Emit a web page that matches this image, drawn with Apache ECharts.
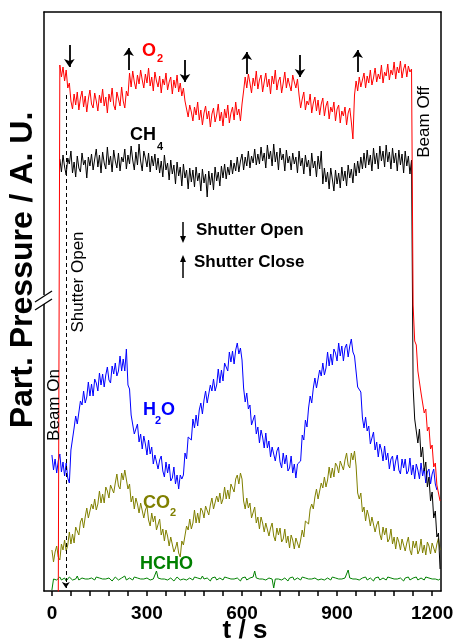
<!DOCTYPE html>
<html>
<head>
<meta charset="utf-8">
<script src="https://cdn.jsdelivr.net/npm/echarts@6/dist/echarts.min.js"></script>
<style>
  html, body { margin: 0; padding: 0; background: #fff; }
  #chart { width: 453px; height: 641px; }
</style>
</head>
<body>
<div id="chart"></div>
<script>
// Mass-spectrometer partial pressures (arbitrary units) sampled every 5 s.
const T_STEP = 5;

// O2 trace, from t = 0 s (zero before the beam is switched on)
const o2Start = 0;
const o2Values = [
  -10,-10,-10,-10,-10,
  526,514,524,510,521,503,508,490,
  482,497,486,499,481,493,500,484,495,479,492,501,487,483,498,490,480,496,488,502,485,494,478,497,489,503,486,481,499,492,485,504,490,483,500,495,
  518,504,520,509,502,516,507,521,511,503,517,508,523,505,514,500,519,510,504,515,498,512,506,518,501,509,514,497,511,503,516,499,508,495,
  503,490,
  488,474,486,479,470,484,476,489,471,481,466,478,485,472,480,464,477,483,469,476,487,470,479,465,482,473,486,468,478,484,471,489,476,482,470,487,
  500,514,503,517,508,498,513,505,520,502,511,516,499,509,518,504,512,497,515,507,521,501,510,514,498,508,519,503,513,506,500,516,509,503,512,
  496,483,492,499,481,490,486,497,478,488,494,480,491,476,487,493,475,485,490,472,484,479,489,470,482,486,468,480,475,484,466,478,483,469,452,
  496,510,500,514,504,511,518,503,515,508,521,506,513,523,509,517,512,526,508,519,515,527,511,521,516,529,512,524,518,530,513,522,527,514,525,519,522,
  286,250,246,220,222,198,200,178,182,160,164,142,146,124,128,106,108,90
];

// CH4 trace, from the moment the beam is switched on
const ch4Start = 25;
const ch4Values = [
  432,419,436,424,416,433,427,440,418,429,414,435,423,419,438,426,431,413,434,425,
  437,421,432,442,424,436,418,439,428,422,444,426,435,419,441,430,423,438,420,434,429,
  442,422,436,427,445,431,421,439,426,447,430,420,440,433,424,438,419,435,425,437,421,
  433,418,430,414,436,421,428,411,431,417,426,407,429,415,424,405,427,413,421,402,423,
  409,421,404,424,410,418,400,422,408,417,394,420,406,418,401,424,410,419,405,425,413,
  427,412,424,416,431,417,428,420,434,419,430,437,421,434,425,440,423,435,428,442,426,437,
  427,444,430,438,423,446,432,440,425,447,429,439,421,443,431,437,420,441,428,435,
  421,438,427,434,418,440,425,433,417,436,424,431,415,438,423,430,414,435,422,440,
  407,423,409,419,402,423,412,400,421,407,418,403,424,410,420,405,426,413,422,408,428,415,
  430,418,434,422,438,423,441,426,436,420,443,427,438,422,445,430,440,424,446,429,439,
  422,443,428,438,420,441,426,437,418,440,425,435,417,431,
  204,172,174,148,162,134,144,120,129,104,114,90,99,73,80,54,58,22
];

// H2O trace
const h2oStart = 0;
const h2oValues = [
  136,121,132,118,130,137,119,129,115,128,113,
  108,
  141,142,163,175,167,169,190,186,200,188,194,209,195,207,195,212,208,200,218,206,217,204,216,224,211,208,225,217,228,215,220,235,220,232,220,242,
  206,202,176,178,157,157,167,149,157,142,155,147,136,151,137,144,127,136,138,122,131,135,120,114,129,118,127,110,113,124,107,116,102,116,112,
  116,138,132,154,155,151,172,163,176,165,181,188,177,191,200,188,187,206,200,212,200,206,222,208,221,210,228,226,220,239,229,240,227,241,248,237,243,
  231,203,189,198,182,186,166,166,176,157,164,148,161,154,143,158,143,150,134,144,146,130,140,144,129,123,138,127,136,120,123,135,118,127,113,127,
  126,130,156,151,171,164,183,195,188,203,213,203,202,221,215,228,216,223,239,225,237,226,242,238,230,248,235,245,230,243,247,234,245,252,239,235,
  234,204,203,199,173,163,174,160,165,147,148,159,141,149,134,147,141,130,145,131,138,122,132,135,120,130,136,121,117,132,
  123,132,117,120,133,116,126,112,127,121,112,128,115,123,108,119,122,107,117,122,107,101
];

// CO2 trace
const co2Start = 0;
const co2Values = [
  41,29,39,45,34,31,47,41,51,40,46,59,47,57,48,64,62,56,69,73,63,74,83,73,71,87,82,92,81,87,100,88,97,88,104,100,93,106,108,98,108,117,105,102,118,111,121,122,
  102,107,89,95,82,93,87,78,88,87,73,81,85,71,65,78,69,75,61,63,72,56,62,50,61,55,45,54,52,39,43,49,38,34,50,
  46,47,65,61,72,62,68,81,68,78,68,83,80,73,85,87,76,86,93,82,80,95,89,98,87,92,104,92,101,92,107,105,99,112,116,107,118,
  112,90,82,93,83,88,73,75,84,68,74,62,74,68,59,68,68,55,63,68,55,50,63,56,63,49,52,62,48,55,43,56,51,42,53,53,43,
  51,61,54,70,71,67,82,87,82,94,102,92,91,108,103,114,104,111,124,113,123,114,128,125,118,130,132,121,131,138,126,123,138,131,140,
  125,98,92,98,79,84,70,81,75,65,74,73,59,66,70,57,51,64,56,63,49,52,62,47,54,42,54,49,41,52,
  52,40,48,54,41,36,50,43,50,37,41,52,38,46,36,49,45,37,48,49,38,47,53,41
];

// HCHO trace
const hchoStart = 0;
const hchoValues = [
  1,12,13,11,12,14,11,12,13,10,12,14,12,11,13,12,15,11,12,13,11,12,14,12,10,13,12,11,14,12,
  13,11,12,14,12,11,13,12,10,12,14,13,11,12,13,12,15,11,12,13,12,11,14,12,13,11,12,14,12,10,
  13,12,11,13,12,14,20,13,11,12,13,12,14,11,12,13,12,10,12,14,12,11,13,12,14,11,12,13,12,11,
  14,12,13,11,12,15,12,11,13,12,10,13,12,14,11,12,13,12,11,14,12,13,11,12,14,12,11,13,12,10,
  13,12,14,11,12,13,12,14,20,13,11,12,13,12,14,11,12,13,11,12,3,12,13,12,14,11,12,13,12,10,
  13,12,14,11,12,13,12,11,14,12,13,11,12,14,12,10,13,12,11,13,12,14,11,12,13,12,11,14,12,13,
  11,12,14,12,10,13,12,21,13,11,12,14,12,13,11,12,13,12,14,11,12,13,12,10,13,12,14,11,12,13,
  12,11,14,12,13,11,12,14,12,11,13,12,10,13,12,14,11,12,13,12,14,11,12,13,12,11,14,12,13,11,
  12,14,12,13,11,12
];

// Events (s) and arrow extents (A.U.)
const shutterFirstOpen = 44;
const shutterOpenTimes = [55, 420, 783];
const shutterCloseTimes = [242, 615, 965];
const openArrowTop = [546, 531, 536];
const closeArrowTop = [543, 539, 541];
const ARROW_LEN = 22;

// Axis ticks
const xTickLabels = [0, 300, 600, 900, 1200];
const xMinorTicks = [0,60,120,180,240,300,360,420,480,540,600,660,720,780,840,900,960,1020,1080,1140,1200];

const FONT = '"Liberation Sans", Arial, Helvetica, sans-serif';

function pairs(start, values) {
  return values.map((v, i) => [start + i * T_STEP, v]);
}

function trace(name, color, start, values, z) {
  return {
    name, type: 'line', data: pairs(start, values),
    showSymbol: false, symbol: 'none', z,
    lineStyle: { color, width: 1 },
    clip: true, animation: false, silent: true
  };
}

const arrowLines = [];
shutterOpenTimes.forEach((t, i) => {
  arrowLines.push([
    { coord: [t, openArrowTop[i]], symbol: 'none' },
    { coord: [t, openArrowTop[i] - ARROW_LEN], symbol: 'arrow', symbolSize: 8 }
  ]);
});
shutterCloseTimes.forEach((t, i) => {
  arrowLines.push([
    { coord: [t, closeArrowTop[i] - ARROW_LEN], symbol: 'none' },
    { coord: [t, closeArrowTop[i]], symbol: 'arrow', symbolSize: 8 }
  ]);
});

function txt(text, x, y, size, color, opts) {
  opts = opts || {};
  return {
    type: 'text', x, y, rotation: opts.rotation || 0, z: 100, silent: true,
    style: {
      text, fill: color,
      font: (opts.weight || 'bold') + ' ' + size + 'px ' + FONT,
      align: opts.align || 'left', verticalAlign: 'middle',
      textAlign: opts.align || 'left', textVerticalAlign: 'middle'
    }
  };
}

function legendArrow(x, yFrom, yTo) {
  const dir = yTo > yFrom ? 1 : -1;
  return [
    { type: 'line', z: 100, silent: true, shape: { x1: x, y1: yFrom, x2: x, y2: yTo - dir * 5 },
      style: { stroke: '#000', lineWidth: 1.5 } },
    { type: 'polygon', z: 100, silent: true,
      shape: { points: [[x - 3, yTo - dir * 7], [x + 3, yTo - dir * 7], [x, yTo]] },
      style: { fill: '#000' } }
  ];
}

const graphics = [
  // axis titles
  txt('Part. Pressure / A. U.', 23, 270, 32, '#000', { rotation: Math.PI / 2, align: 'center' }),
  txt('t / s', 245, 631, 26, '#000', { align: 'center' }),
  // break marks on the left axis
  { type: 'rect', z: 100, silent: true, shape: { x: 40, y: 295, width: 8, height: 9 }, style: { fill: '#fff' } },
  { type: 'line', z: 101, silent: true, shape: { x1: 35, y1: 302, x2: 52, y2: 291 }, style: { stroke: '#000', lineWidth: 1.3 } },
  { type: 'line', z: 101, silent: true, shape: { x1: 35, y1: 310, x2: 52, y2: 299 }, style: { stroke: '#000', lineWidth: 1.3 } },
  // species labels
  txt('O', 142, 51, 18, '#ff0000'), txt('2', 157, 59, 11, '#ff0000'),
  txt('CH', 130, 135, 18, '#000000'), txt('4', 157, 147, 11, '#000000'),
  txt('H', 143, 410, 18, '#0000ff'), txt('2', 155, 421, 11, '#0000ff'), txt('O', 161, 410, 18, '#0000ff'),
  txt('CO', 143, 503, 18, '#808000'), txt('2', 170, 513, 11, '#808000'),
  txt('HCHO', 140, 564, 18, '#008000'),
  // event annotations
  txt('Beam On', 54, 405, 17, '#000', { rotation: Math.PI / 2, align: 'center', weight: 'normal' }),
  txt('Shutter Open', 78, 282, 17, '#000', { rotation: Math.PI / 2, align: 'center', weight: 'normal' }),
  txt('Beam Off', 424, 122, 17, '#000', { rotation: Math.PI / 2, align: 'center', weight: 'normal' }),
  // key
  ...legendArrow(183, 222, 243),
  txt('Shutter Open', 196, 230, 17, '#000'),
  ...legendArrow(183, 278, 255),
  txt('Shutter Close', 194, 262, 17, '#000')
];

const chart = echarts.init(document.getElementById('chart'), null, { renderer: 'canvas' });
chart.setOption({
  animation: false,
  backgroundColor: '#fff',
  grid: { left: 44, right: 12, top: 12, bottom: 50, containLabel: false, outerBoundsMode: 'none' },
  xAxis: [
    {
      type: 'value', min: -25, max: 1228, position: 'bottom',
      axisLine: { show: true, onZero: false, lineStyle: { color: '#000', width: 1.5 } },
      axisTick: { show: true, inside: false, length: 5, customValues: xMinorTicks, lineStyle: { color: '#000', width: 1.5 } },
      axisLabel: { show: true, margin: 13, customValues: xTickLabels, formatter: v => String(v),
        fontFamily: FONT, fontWeight: 'bold', fontSize: 19, color: '#000' },
      splitLine: { show: false }
    },
    {
      type: 'value', min: -25, max: 1228, position: 'top',
      axisLine: { show: true, onZero: false, lineStyle: { color: '#000', width: 1.5 } },
      axisTick: { show: false }, axisLabel: { show: false }, splitLine: { show: false }
    }
  ],
  yAxis: [
    {
      type: 'value', min: 0, max: 579, position: 'left',
      axisLine: { show: true, onZero: false, lineStyle: { color: '#000', width: 1.5 } },
      axisTick: { show: false }, axisLabel: { show: false }, splitLine: { show: false }
    },
    {
      type: 'value', min: 0, max: 579, position: 'right',
      axisLine: { show: true, onZero: false, lineStyle: { color: '#000', width: 1.5 } },
      axisTick: { show: false }, axisLabel: { show: false }, splitLine: { show: false }
    }
  ],
  series: [
    trace('HCHO', '#008000', hchoStart, hchoValues, 2),
    trace('CO2', '#808000', co2Start, co2Values, 3),
    trace('H2O', '#0000ff', h2oStart, h2oValues, 4),
    trace('CH4', '#000000', ch4Start, ch4Values, 5),
    trace('O2', '#ff0000', o2Start, o2Values, 6),
    {
      name: 'events', type: 'line', data: [], z: 7, silent: true,
      markLine: {
        silent: true, animation: false, label: { show: false },
        symbol: ['none', 'arrow'],
        lineStyle: { color: '#000', width: 1.8, type: 'solid' },
        emphasis: { disabled: true },
        data: arrowLines.concat([
          [
            { coord: [shutterFirstOpen, 496], symbol: 'none', lineStyle: { type: [4, 3], width: 1 } },
            { coord: [shutterFirstOpen, 3], symbol: 'arrow', symbolSize: 6 }
          ]
        ])
      }
    }
  ],
  graphic: graphics
});
</script>
</body>
</html>
